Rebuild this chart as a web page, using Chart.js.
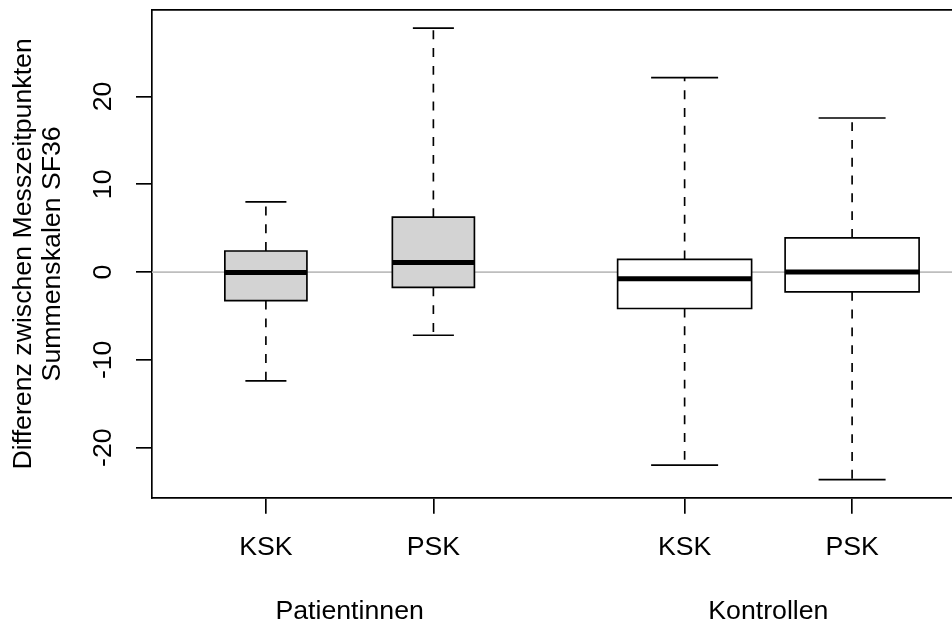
<!DOCTYPE html>
<html>
<head>
<meta charset="utf-8">
<script src="https://cdn.jsdelivr.net/npm/chart.js@4.4.1/dist/chart.umd.min.js"></script>
<style>
  html, body { margin: 0; padding: 0; background: #fff; overflow: hidden; }
  #wrap { width: 1033px; height: 626px; }
</style>
</head>
<body>
<div id="wrap"><canvas id="grafico" width="1033" height="626"></canvas></div>
<script>
const grupos = ['KSK', 'PSK', 'KSK', 'PSK'];
const gruposMaiores = ['Patientinnen', 'Kontrollen'];
const minimo = [-12.4, -7.2, -22.0, -23.65];
const q1 = [-3.25, -1.75, -4.15, -2.25];
const mediana = [-0.05, 1.1, -0.75, 0];
const q3 = [2.4, 6.25, 1.45, 3.9];
const maximo = [8.0, 27.8, 22.15, 17.55];
const yTicks = [-20, -10, 0, 10, 20];

// layout do boxplot: posicoes (at) e larguras (varwidth)
const posicoes = [1, 2, 3.5, 4.5];
const posGrupos = [1.5, 4];
const larguras = [0.49, 0.49, 0.8, 0.8];
const cores = ['#d3d3d3', '#d3d3d3', '#ffffff', '#ffffff'];

const fonte = { family: '"Liberation Sans", Arial, Helvetica, sans-serif', size: 26.7 };
const lwd = 1.67;

// limites como no R (4% de folga)
const xLo = Math.min(...posicoes) - 0.5;
const xHi = Math.max(...posicoes) + 0.5;
const xPad = (xHi - xLo) * 0.04;
const yLo = Math.min(...minimo);
const yHi = Math.max(...maximo);
const yPad = (yHi - yLo) * 0.04;

const semPadding = s => {
    s.paddingTop = 0; s.paddingBottom = 0; s.paddingLeft = 0; s.paddingRight = 0;
};

const datasets = [];

// linha do zero
datasets.push({
    data: [{ x: xLo - xPad, y: 0 }, { x: xHi + xPad, y: 0 }],
    borderColor: '#bebebe',
    order: 10
});

posicoes.forEach((p, i) => {
    const l = p - larguras[i] / 2;
    const r = p + larguras[i] / 2;
    const s = larguras[i] / 4;

    // caixa
    datasets.push({
        data: [
            { x: l, y: q1[i] }, { x: r, y: q1[i] }, { x: r, y: q3[i] },
            { x: l, y: q3[i] }, { x: l, y: q1[i] }
        ],
        backgroundColor: cores[i],
        fill: 'shape',
        borderCapStyle: 'square',
        order: 5
    });

    // bigodes tracejados
    datasets.push({
        data: [
            { x: p, y: q3[i] }, { x: p, y: maximo[i] }, { x: p, y: null },
            { x: p, y: q1[i] }, { x: p, y: minimo[i] }
        ],
        borderDash: [8.9, 8.9],
        order: 6
    });

    // traços das pontas
    datasets.push({
        data: [
            { x: p - s, y: maximo[i] }, { x: p + s, y: maximo[i] }, { x: p, y: null },
            { x: p - s, y: minimo[i] }, { x: p + s, y: minimo[i] }
        ],
        order: 6
    });

    // mediana
    datasets.push({
        data: [{ x: l, y: mediana[i] }, { x: r, y: mediana[i] }],
        borderWidth: 5,
        order: 1
    });
});

new Chart(document.getElementById('grafico'), {
    type: 'line',
    data: { datasets: datasets },
    options: {
        responsive: false,
        animation: false,
        devicePixelRatio: 1,
        layout: { padding: { top: 10, right: 67, bottom: 0, left: 0 } },
        datasets: {
            line: {
                borderColor: '#000',
                borderWidth: lwd,
                pointRadius: 0,
                pointHoverRadius: 0,
                fill: false,
                tension: 0,
                spanGaps: false
            }
        },
        plugins: {
            legend: { display: false },
            tooltip: { enabled: false }
        },
        events: [],
        scales: {
            x: {
                type: 'linear',
                position: 'bottom',
                weight: 0,
                min: xLo - xPad,
                max: xHi + xPad,
                afterBuildTicks: s => { s.ticks = posicoes.map(v => ({ value: v })); },
                ticks: {
                    callback: (v, i) => grupos[i],
                    font: fonte,
                    color: '#000',
                    padding: 18.3,
                    autoSkip: false,
                    maxRotation: 0
                },
                grid: { drawOnChartArea: false, drawTicks: true, tickLength: 16, color: '#000', lineWidth: lwd },
                border: { display: true, color: '#000', width: lwd },
                afterFit: s => { s.height = 80; semPadding(s); }
            },
            x3: {
                type: 'linear',
                position: 'bottom',
                weight: 1,
                min: xLo - xPad,
                max: xHi + xPad,
                afterBuildTicks: s => { s.ticks = posGrupos.map(v => ({ value: v })); },
                ticks: {
                    callback: (v, i) => gruposMaiores[i],
                    font: fonte,
                    color: '#000',
                    padding: 17.8,
                    autoSkip: false,
                    maxRotation: 0
                },
                grid: { display: false, drawTicks: false },
                border: { display: false },
                afterFit: s => { s.height = 48.3; semPadding(s); }
            },
            x2: {
                type: 'linear',
                position: 'top',
                min: xLo - xPad,
                max: xHi + xPad,
                ticks: { display: false },
                grid: { display: false, drawTicks: false },
                border: { display: true, color: '#000', width: lwd },
                afterFit: s => { s.height = 0; semPadding(s); }
            },
            y: {
                type: 'linear',
                position: 'left',
                min: yLo - yPad,
                max: yHi + yPad,
                afterBuildTicks: s => { s.ticks = yTicks.map(v => ({ value: v })); },
                ticks: {
                    font: fonte,
                    color: '#000',
                    minRotation: 90,
                    maxRotation: 90,
                    crossAlign: 'center',
                    padding: 12.7
                },
                grid: { drawOnChartArea: false, drawTicks: true, tickLength: 16, color: '#000', lineWidth: lwd },
                border: { display: true, color: '#000', width: lwd },
                title: {
                    display: true,
                    text: ['Differenz zwischen Messzeitpunkten', 'Summenskalen SF36'],
                    font: { family: fonte.family, size: 26.7, lineHeight: '28.5px' },
                    color: '#000',
                    padding: { top: 9.5, bottom: 0 }
                },
                afterFit: s => { s.width = 152; semPadding(s); }
            }
        }
    }
});
</script>
</body>
</html>
